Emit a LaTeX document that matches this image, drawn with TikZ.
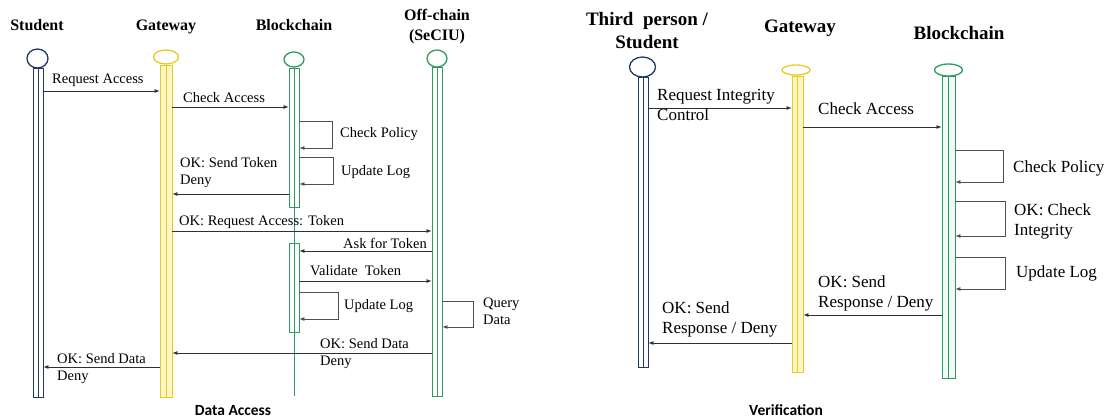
\documentclass[tikz,border=0pt]{standalone}
\usepackage{fontspec}
\setmainfont{Liberation Serif}
\newfontfamily\capfont{Carlito}
\usetikzlibrary{arrows.meta,shapes.geometric}
\definecolor{navy}{HTML}{1F3864}
\definecolor{gold}{HTML}{E9C920}
\definecolor{goldfill}{HTML}{FFF6C8}
\definecolor{grn}{HTML}{2E9B5F}
\definecolor{grnfill}{HTML}{F2FAF5}
\definecolor{ink}{HTML}{303030}
\tikzset{
  lifebar/.style 2 args={draw=#1, fill=#2, line width=0.9pt, inner sep=0pt, anchor=north,
    path picture={\draw[#1, line width=0.7pt] (path picture bounding box.north) -- (path picture bounding box.south);}},
  headshape/.style={ellipse, draw=#1, fill=white, line width=1.3pt, inner sep=0pt},
  msg/.style={draw=ink, line width=0.7pt, -{Latex[length=5pt,width=4pt]}},
  selfmsg/.style={draw=ink!85, line width=0.7pt, -{Latex[length=5pt,width=4pt]}},
  lbl/.style={anchor=base west, inner sep=0pt, align=left, font=\fontsize{14.5}{17}\selectfont},
  rlbl/.style={anchor=base west, inner sep=0pt, align=left, font=\fontsize{17}{20}\selectfont},
  hdr/.style={anchor=base, inner sep=0pt, align=center, font=\bfseries\fontsize{16}{19.5}\selectfont},
  rhdr/.style={anchor=base, inner sep=0pt, align=center, font=\bfseries\fontsize{19}{23}\selectfont},
  captxt/.style={anchor=base, inner sep=0pt, font=\capfont\bfseries\fontsize{15.5}{18}\selectfont},
}
\begin{document}
\begin{tikzpicture}[x=1pt,y=-1pt]
\useasboundingbox (0,0) rectangle (1112,418);

% ---------------- Data Access ----------------
% (multi-line nodes are placed by the baseline of their last line)
\node[hdr] (hStu) at (37,30) {Student};
\node[hdr] (hGw) at (166,30) {Gateway};
\node[hdr] (hBc) at (294,30) {Blockchain};
\node[hdr] (hOff) at (437,40) {Off-chain\\(SeCIU)};

\node[headshape=navy, minimum width=21pt, minimum height=19pt] (stuH) at (37.5,58.5) {};
\node[headshape=gold, minimum width=25pt, minimum height=14pt] (gwH) at (166,57) {};
\node[headshape=grn, minimum width=20pt, minimum height=15pt] (bcH) at (294,59.5) {};
\node[headshape=grn, minimum width=20pt, minimum height=17pt] (offH) at (437,58.5) {};

\coordinate (bcEnd) at (294,396);
\draw[grn, line width=0.9pt] (bcH.south) -- (bcEnd);

\node[lifebar={navy}{white}, minimum width=10pt, minimum height=329pt] (stu) at (38,68) {};
\node[lifebar={gold}{goldfill}, minimum width=12pt, minimum height=332pt] (gw) at (166,65) {};
\node[lifebar={grn}{white}, minimum width=10pt, minimum height=139pt] (bc1) at (294,68) {};
\node[lifebar={grn}{white}, minimum width=10pt, minimum height=89pt] (bc2) at (294,243) {};
\node[lifebar={grn}{white}, minimum width=10pt, minimum height=329pt] (off) at (437,67) {};

\draw[msg] (stu.east |- 0,91) -- (gw.west |- 0,91);
\node[lbl] (l1) at (52,83) {Request Access};
\draw[msg] (gw.east |- 0,107) -- (bc1.west |- 0,107);
\node[lbl] (l2) at (183,102) {Check Access};
\draw[selfmsg] (bc1.east |- 0,121) -- ++(33,0) |- (bc1.east |- 0,148);
\node[lbl] (l3) at (340,137) {Check Policy};
\draw[selfmsg] (bc1.east |- 0,157) -- ++(34,0) |- (bc1.east |- 0,184);
\node[lbl] (l4) at (341,175) {Update Log};
\draw[msg] (bc1.west |- 0,194) -- (gw.east |- 0,194);
\node[lbl] (l5) at (180,184) {OK: Send Token\\Deny};
\draw[msg] (gw.east |- 0,231) -- (off.west |- 0,231);
\node[lbl] (l6) at (179,225) {OK: Request Access: Token};
\draw[msg] (off.west |- 0,251) -- (bc2.east |- 0,251);
\node[lbl] (l7) at (343,248) {Ask for Token};
\draw[msg] (bc2.east |- 0,281) -- (off.west |- 0,281);
\node[lbl] (l8) at (310,275) {Validate\ \ Token};
\draw[selfmsg] (bc2.east |- 0,292) -- ++(39,0) |- (bc2.east |- 0,319);
\node[lbl] (l9) at (344,309) {Update Log};
\draw[selfmsg] (off.east |- 0,301) -- ++(31,0) |- (off.east |- 0,327);
\node[lbl] (l10) at (483,324) {Query\\Data};
\draw[msg] (off.west |- 0,353) -- (gw.east |- 0,353);
\node[lbl] (l11) at (320,365) {OK: Send Data\\Deny};
\draw[msg] (gw.west |- 0,367) -- (stu.east |- 0,367);
\node[lbl] (l12) at (57,380) {OK: Send Data\\Deny};

\node[captxt] (capA) at (233,415) {Data Access};

% ---------------- Verification ----------------
\node[rhdr] (rhStu) at (647,48) {Third\ \ person /\\Student};
\node[rhdr] (rhGw) at (800,32) {Gateway};
\node[rhdr] (rhBc) at (959,39) {Blockchain};

\node[headshape=navy, minimum width=26pt, minimum height=20pt] (rstuH) at (642.5,67) {};
\node[headshape=gold, minimum width=28pt, minimum height=10pt] (rgwH) at (796,70) {};
\node[headshape=grn, minimum width=28pt, minimum height=12pt] (rbcH) at (948.5,70) {};

\node[lifebar={navy}{white}, minimum width=10pt, minimum height=290pt] (rstu) at (643,77) {};
\node[lifebar={gold}{goldfill}, minimum width=11pt, minimum height=296pt] (rgw) at (797.5,76) {};
\node[lifebar={grn}{grnfill}, minimum width=13pt, minimum height=302pt] (rbc) at (948.5,76) {};

\draw[msg] (rstu.east |- 0,108) -- (rgw.west |- 0,108);
\node[rlbl] (r1) at (657,120) {Request Integrity\\Control};
\draw[msg] (rgw.east |- 0,127) -- (rbc.west |- 0,127);
\node[rlbl] (r2) at (818,114) {Check Access};
\draw[selfmsg] (rbc.east |- 0,150) -- ++(48,0) |- (rbc.east |- 0,182);
\node[rlbl] (r3) at (1013,172) {Check Policy};
\draw[selfmsg] (rbc.east |- 0,201) -- ++(50,0) |- (rbc.east |- 0,236);
\node[rlbl] (r4) at (1014,235) {OK: Check\\Integrity};
\draw[selfmsg] (rbc.east |- 0,257) -- ++(50,0) |- (rbc.east |- 0,289);
\node[rlbl] (r5) at (1016,277) {Update Log};
\draw[msg] (rbc.west |- 0,315) -- (rgw.east |- 0,315);
\node[rlbl] (r6) at (818,307) {OK: Send\\Response / Deny};
\draw[msg] (rgw.west |- 0,343) -- (rstu.east |- 0,343);
\node[rlbl] (r7) at (662,333) {OK: Send\\Response / Deny};

\node[captxt] (capB) at (786,415) {Verification};
\end{tikzpicture}
\end{document}
